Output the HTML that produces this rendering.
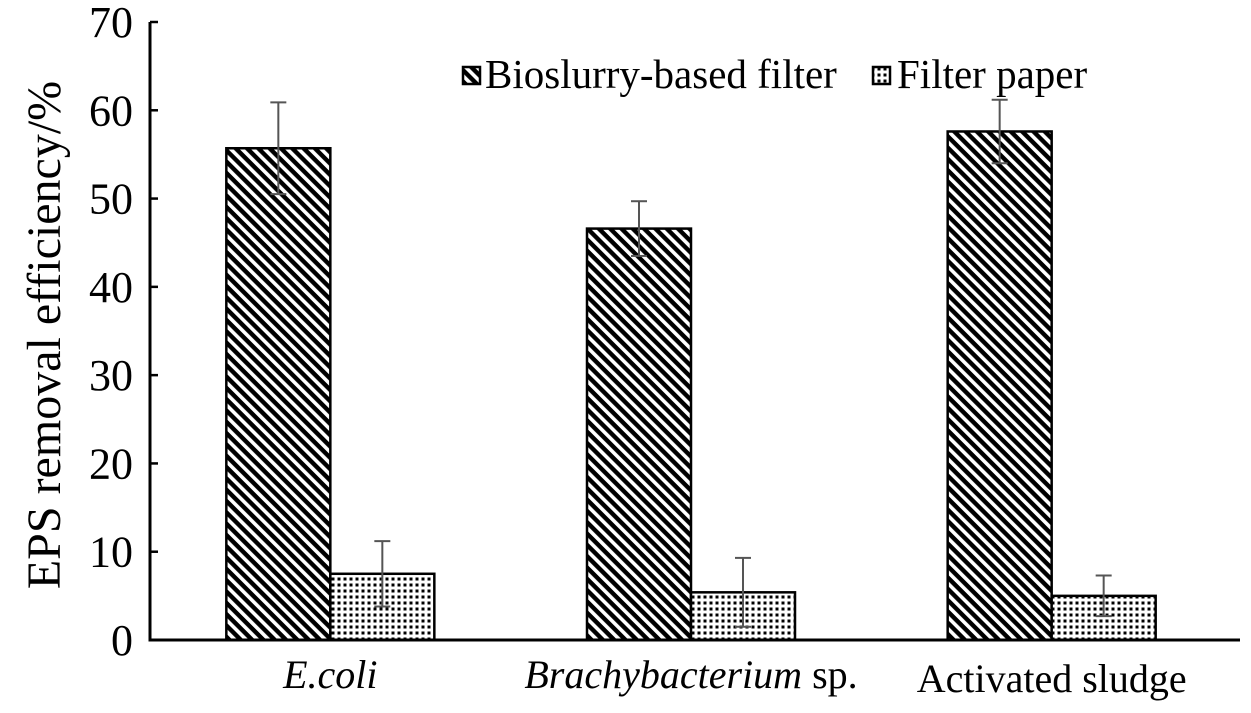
<!DOCTYPE html>
<html><head><meta charset="utf-8"><style>
body{margin:0;background:#fff}
svg{display:block}
text{font-family:"Liberation Serif",serif;fill:#000}
</style></head><body>
<svg id="chart" width="1251" height="713">
<defs>
<pattern id="diag" width="8" height="8" patternUnits="userSpaceOnUse" patternTransform="rotate(45)">
<rect width="8" height="8" fill="#fff"/><rect width="8" height="4.4" fill="#000"/>
</pattern>
<pattern id="dots" width="6" height="6" patternUnits="userSpaceOnUse">
<rect width="6" height="6" fill="#fff"/><rect x="1.5" y="1.5" width="3" height="3" fill="#000"/>
</pattern>
</defs>
<g id="plot"></g>
</svg>
<script>
const categories=["E.coli","Brachybacterium sp.","Activated sludge"];
const bioslurry=[55.7,46.6,57.6];
const bioslurryErr=[5.2,3.1,3.6];
const paper=[7.5,5.4,5.0];
const paperErr=[3.7,3.9,2.3];
const yTicks=[0,10,20,30,40,50,60,70];
const NS="http://www.w3.org/2000/svg";
const g=document.getElementById('plot');
const x0=150,x1=1232,yTop=22,yBot=640,yMax=70;
const y=v=>yBot-(v/yMax)*(yBot-yTop);
const bw=(x1-x0)/categories.length;
const barW=104;
function mk(t,a,p){const e=document.createElementNS(NS,t);for(const k in a)e.setAttribute(k,a[k]);(p||g).appendChild(e);return e;}
categories.forEach((c,i)=>{
 const cx=x0+bw*(i+0.5);
 [[bioslurry,bioslurryErr,'url(#diag)',cx-barW,'bioslurry'],[paper,paperErr,'url(#dots)',cx,'paper']].forEach(([vals,errs,fill,bx,nm])=>{
  const r=mk('rect',{x:bx,y:y(vals[i]),width:barW,height:yBot-y(vals[i]),fill:fill,stroke:'#000','stroke-width':2.5});
  
  
  const ex=bx+barW/2;
  const eg=mk('g',{stroke:'#555','stroke-width':2});
  
  
  mk('line',{x1:ex,x2:ex,y1:y(vals[i]+errs[i]),y2:y(vals[i]-errs[i])},eg);
  mk('line',{x1:ex-8,x2:ex+8,y1:y(vals[i]+errs[i]),y2:y(vals[i]+errs[i])},eg);
  mk('line',{x1:ex-8,x2:ex+8,y1:y(vals[i]-errs[i]),y2:y(vals[i]-errs[i])},eg);
 });
 const t=mk('text',{x:cx,y:688,'text-anchor':'middle','font-size':40});
 
 
 if(i===0){t.innerHTML='<tspan font-style="italic">E.coli</tspan>';}
 else if(i===1){t.innerHTML='<tspan font-style="italic">Brachybacterium</tspan> sp.';}
 else{t.textContent=c;t.setAttribute('y',692);}
});
const ax=mk('path',{d:`M${x0} ${yTop}V${yBot}H1240`,stroke:'#000','stroke-width':3,fill:'none'});


yTicks.forEach(v=>{
 const l=mk('line',{x1:x0,x2:x0+8,y1:y(v),y2:y(v),stroke:'#000','stroke-width':2.5});
 
 
 const t=mk('text',{x:133,y:y(v)+15,'text-anchor':'end','font-size':44});
 t.textContent=v;
 
 
});
const yt=mk('text',{x:0,y:0,'text-anchor':'middle','font-size':48,transform:'translate(60,335) rotate(-90)'});
yt.textContent='EPS removal efficiency/%';


const lg=mk('g',{});


mk('rect',{x:463,y:67,width:17,height:17,fill:'url(#diag)',stroke:'#000','stroke-width':2.5},lg);
const l1=mk('text',{x:485,y:88,'font-size':41},lg);l1.textContent='Bioslurry-based filter';


mk('rect',{x:873,y:67,width:17,height:17,fill:'url(#dots)',stroke:'#000','stroke-width':2.5},lg);
const l2=mk('text',{x:897,y:88,'font-size':41},lg);l2.textContent='Filter paper';


</script>
</body></html>
